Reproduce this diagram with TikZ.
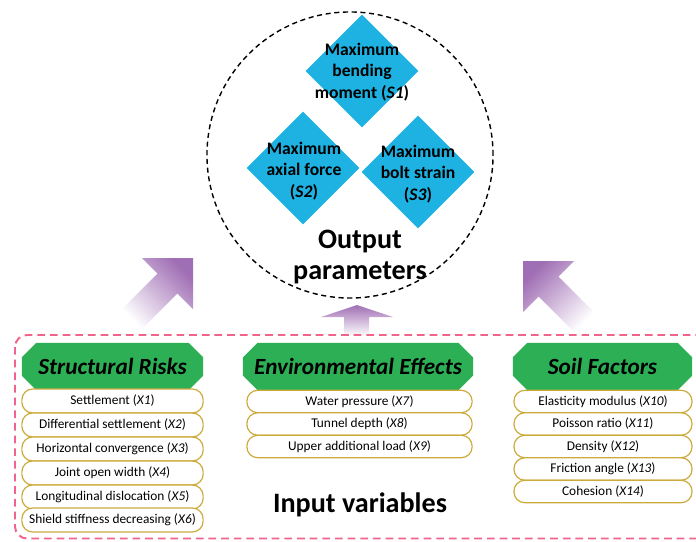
\documentclass[tikz,border=0pt]{standalone}
\usepackage{fontspec}
\setmainfont{Carlito}
\usetikzlibrary{shapes.geometric,shapes.misc}
\definecolor{outblue}{RGB}{29,178,226}
\definecolor{headgreen}{RGB}{45,176,85}
\definecolor{itemgold}{RGB}{205,170,60}
\definecolor{boxpink}{RGB}{240,100,140}
\definecolor{arrowpurple}{RGB}{160,110,180}
\tikzset{
  outdiamond/.style={diamond, fill=outblue, minimum size=2.82cm, inner sep=0pt},
  outlabel/.style={align=center, font=\fontsize{12.5}{15.2}\selectfont\bfseries},
  groupname/.style={chamfered rectangle, chamfered rectangle xsep=1.8mm,
    chamfered rectangle ysep=1.8mm, fill=headgreen, minimum height=1.18cm,
    inner sep=0pt, font=\fontsize{16.5}{18}\selectfont\bfseries\itshape},
  variable/.style 2 args={draw=itemgold, fill=white, line width=0.85pt,
    rounded corners=0.27cm, inner sep=0pt, minimum width=#1, minimum height=#2,
    font=\fontsize{9.5}{11}\selectfont},
  bigtitle/.style={align=center, font=\fontsize{20}{22.7}\selectfont\bfseries},
}
\begin{document}
\begin{tikzpicture}[x=0.025cm, y=-0.025cm]
  \useasboundingbox (0,0) rectangle (696,541);
  \clip (0,0) rectangle (696,541);
  % arrows from the inputs to the outputs
  \shade[top color=arrowpurple, bottom color=white, shading angle=-45]
    (193,258) -- (193,309) -- (177.4,293.4) -- (140.7,330.1)
    -- (120.9,310.3) -- (157.6,273.6) -- (142,258) -- cycle;
  \shade[top color=arrowpurple, bottom color=white]
    (357,305) -- (393,317) -- (369,317) -- (369,336)
    -- (344,336) -- (344,317) -- (321,317) -- cycle;
  \shade[top color=arrowpurple, bottom color=white, shading angle=45]
    (523,261) -- (574,261) -- (558.4,276.6) -- (595.1,313.3)
    -- (575.3,333.1) -- (538.6,296.4) -- (523,312) -- cycle;
  % output parameters
  \node[circle, draw, dashed, line width=1pt, dash pattern=on 3.6pt off 2.6pt,
    minimum size=7.15cm] (outputs) at (350,155) {};
  \node[outdiamond] (s1) at (362,71) {};
  \node[outdiamond] (s2) at (303,168) {};
  \node[outdiamond] (s3) at (418,172) {};
  \node[outlabel] (s1text) at (362,72) {Maximum\\bending\\moment (\textit{S1})};
  \node[outlabel] (s2text) at (304,171) {Maximum\\axial force\\(\textit{S2})};
  \node[outlabel] (s3text) at (418,174) {Maximum\\bolt strain\\(\textit{S3})};
  \node[bigtitle] (outtitle) at (360,257) {Output\\parameters};
  % input variables
  \draw[boxpink, line width=1.4pt, dash pattern=on 5.5pt off 3.5pt,
    rounded corners=0.3cm] (15,335) rectangle (720,538.5);
  \node[groupname, minimum width=4.53cm] (structural) at (112.5,366.5) {Structural Risks};
  \node[groupname, minimum width=5.75cm] (environmental) at (358,366.5) {Environmental Effects};
  \node[groupname, minimum width=4.48cm] (soil) at (602.5,366.5) {Soil Factors};
  \node[variable={4.53cm}{0.6cm}] (x1) at (112.5,401) {Settlement (\textit{X1})};
  \node[variable={4.53cm}{0.6cm}] (x2) at (112.5,425) {Differential settlement (\textit{X2})};
  \node[variable={4.53cm}{0.6cm}] (x3) at (112.5,449) {Horizontal convergence (\textit{X3})};
  \node[variable={4.53cm}{0.6cm}] (x4) at (112.5,473) {Joint open width (\textit{X4})};
  \node[variable={4.53cm}{0.6cm}] (x5) at (112.5,497) {Longitudinal dislocation (\textit{X5})};
  \node[variable={4.53cm}{0.6cm}] (x6) at (112.5,520) {Shield stiffness decreasing (\textit{X6})};
  \node[variable={5.63cm}{0.56cm}] (x7) at (359.5,401.5) {Water pressure (\textit{X7})};
  \node[variable={5.63cm}{0.56cm}] (x8) at (359.5,424) {Tunnel depth (\textit{X8})};
  \node[variable={5.63cm}{0.56cm}] (x9) at (359.5,446.5) {Upper additional load (\textit{X9})};
  \node[variable={4.45cm}{0.56cm}] (x10) at (603,401.5) {Elasticity modulus (\textit{X10})};
  \node[variable={4.45cm}{0.56cm}] (x11) at (603,424) {Poisson ratio (\textit{X11})};
  \node[variable={4.45cm}{0.56cm}] (x12) at (603,446.5) {Density (\textit{X12})};
  \node[variable={4.45cm}{0.56cm}] (x13) at (603,469) {Friction angle (\textit{X13})};
  \node[variable={4.45cm}{0.56cm}] (x14) at (603,491.5) {Cohesion (\textit{X14})};
  \node[bigtitle] (inputtitle) at (360,505) {Input variables};
\end{tikzpicture}
\end{document}
